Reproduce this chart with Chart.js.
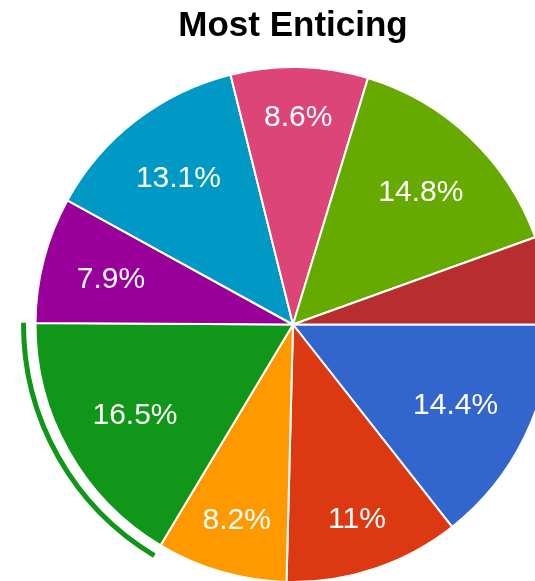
<!DOCTYPE html>
<html>
<head>
<meta charset="utf-8">
<script src="https://cdn.jsdelivr.net/npm/chart.js@4/dist/chart.umd.min.js"></script>
<style>
    html, body { margin: 0; padding: 0; background: #fff; overflow: hidden; }
    #wrap { position: absolute; left: 0; top: 0; width: 586px; height: 583px; }
</style>
</head>
<body>
<div id="wrap"><canvas id="chart"></canvas></div>
<script>
const categories = ['Choice A', 'Choice B', 'Choice C', 'Choice D', 'Choice E', 'Choice F', 'Choice G', 'Choice H', 'Choice I'];
const shares = [14.4, 11, 8.2, 16.5, 7.9, 13.1, 8.6, 14.8, 5.5];
const sliceColors = ['#3366cc', '#dc3912', '#ff9900', '#109618', '#990099', '#0099c6', '#dd4477', '#66aa00', '#b82e2e'];
const selectedSlice = 3;

const labelFont = '30px Arial, "Liberation Sans", sans-serif';

// percentage text inside each slice, pushed out toward the rim
const sliceLabels = {
    id: 'sliceLabels',
    afterDatasetsDraw(chart) {
        const ctx = chart.ctx;
        const arcs = chart.getDatasetMeta(0).data;
        const total = shares.reduce((a, b) => a + b, 0);
        ctx.save();
        ctx.font = labelFont;
        ctx.fillStyle = '#fff';
        ctx.textAlign = 'center';
        ctx.textBaseline = 'alphabetic';
        arcs.forEach((arc, i) => {
            const pct = shares[i] / total * 100;
            if (pct < 6) return;
            const text = (Math.round(pct * 10) / 10) + '%';
            const mid = (arc.startAngle + arc.endAngle) / 2;
            const ux = Math.cos(mid), uy = Math.sin(mid);
            const w = ctx.measureText(text).width / 2, h = 11;
            const R = arc.outerRadius * 0.87;
            const b = w * Math.abs(ux) + h * Math.abs(uy);
            const t = -b + Math.sqrt(b * b - (w * w + h * h - R * R));
            const x = arc.x + t * ux, y = arc.y + t * uy;
            ctx.fillText(text, x, y + 10.7);
        });
        ctx.restore();
    }
};

// thin ring outside the selected slice
const selectionRing = {
    id: 'selectionRing',
    afterDatasetsDraw(chart) {
        const arc = chart.getDatasetMeta(0).data[selectedSlice];
        const ctx = chart.ctx;
        ctx.save();
        ctx.strokeStyle = sliceColors[selectedSlice];
        ctx.lineWidth = 5;
        ctx.lineCap = 'butt';
        ctx.beginPath();
        ctx.arc(arc.x, arc.y, arc.outerRadius + 12, arc.startAngle, arc.endAngle);
        ctx.stroke();
        ctx.restore();
    }
};

new Chart(document.getElementById('chart'), {
    type: 'pie',
    data: {
        labels: categories,
        datasets: [{
            data: shares,
            backgroundColor: sliceColors,
            borderColor: '#fff',
            borderWidth: 2,
            hoverOffset: 0
        }]
    },
    options: {
        responsive: true,
        maintainAspectRatio: false,
        animation: false,
        rotation: 90,
        layout: { padding: 0 },
        plugins: {
            legend: { display: false },
            tooltip: { enabled: false },
            title: {
                display: true,
                text: 'Most Enticing',
                color: '#000',
                font: { family: 'Arial, "Liberation Sans", sans-serif', size: 35, weight: 'bold', lineHeight: 1.2 },
                padding: { top: 5, bottom: 19 }
            }
        }
    },
    plugins: [selectionRing, sliceLabels]
});
</script>
</body>
</html>
